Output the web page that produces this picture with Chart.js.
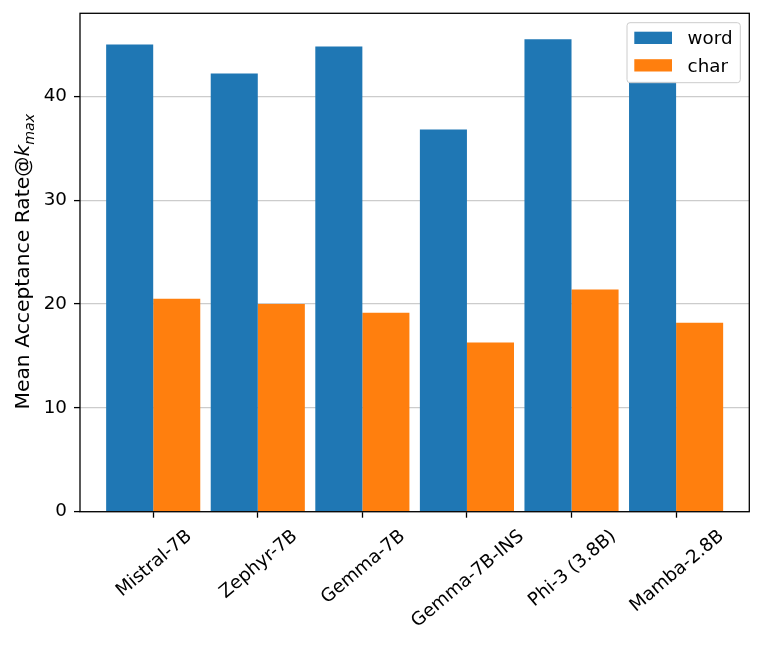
<!DOCTYPE html>
<html><head><meta charset="utf-8">
<script src="https://cdn.jsdelivr.net/npm/chart.js@4"></script>
<style>html,body{margin:0;padding:0;background:#fff}#wrap{width:763px;height:645px}</style>
</head><body><div id="wrap"><canvas id="c" width="763" height="645"></canvas></div>
<script>
const categories = ['Mistral-7B', 'Zephyr-7B', 'Gemma-7B', 'Gemma-7B-INS', 'Phi-3 (3.8B)', 'Mamba-2.8B'];
const wordValues = [45.0, 42.2, 44.8, 36.8, 45.5, 41.4];
const charValues = [20.5, 20.0, 19.15, 16.3, 21.4, 18.2];
const yTicks = [0, 10, 20, 30, 40];
const seriesNames = ['word', 'char'];
const seriesColors = ['#1f77b4', '#ff7f0e'];
const yTitleMain = 'Mean Acceptance Rate@';
const yTitleVar = 'k';
const yTitleSub = 'max';

const FONT = 'DejaVu Sans';
const FS = 18.3;
const TFS = 20.3;

const overlay = {
  id: 'overlay',
  afterDraw(chart) {
    const ctx = chart.ctx;
    const a = chart.chartArea;
    const xs = chart.scales.x;
    ctx.save();
    // frame
    ctx.strokeStyle = '#000';
    ctx.lineWidth = 1.3;
    ctx.strokeRect(a.left, a.top, a.right - a.left, a.bottom - a.top);
    // x labels rotated 40deg, centered
    ctx.fillStyle = '#000';
    ctx.font = FS + 'px "' + FONT + '"';
    ctx.textAlign = 'center';
    ctx.textBaseline = 'alphabetic';
    const ang = 40 * Math.PI / 180;
    const h = FS * 1.164;
    categories.forEach((lab, i) => {
      const px = xs.getPixelForValue(i);
      const w = ctx.measureText(lab).width;
      const H = w * Math.sin(ang) + h * Math.cos(ang);
      const cy = a.bottom + 13 + H / 2;
      ctx.save();
      ctx.translate(px, cy);
      ctx.rotate(-ang);
      ctx.fillText(lab, 0, 0.346 * FS);
      ctx.restore();
    });
    // y title
    ctx.save();
    const cyT = 261.7;
    ctx.translate(29.3, cyT);
    ctx.rotate(-Math.PI / 2);
    ctx.textAlign = 'left';
    const fMain = TFS + 'px "' + FONT + '"';
    const fVar = 'italic ' + TFS + 'px "' + FONT + '"';
    const fSub = 'italic ' + (TFS * 0.7) + 'px "' + FONT + '"';
    ctx.font = fMain; const w1 = ctx.measureText(yTitleMain).width;
    ctx.font = fVar; const w2 = ctx.measureText(yTitleVar).width;
    ctx.font = fSub; const w3 = ctx.measureText(yTitleSub).width;
    let x0 = -(w1 + w2 + w3) / 2;
    ctx.font = fMain; ctx.fillText(yTitleMain, x0, 0); x0 += w1;
    ctx.font = fVar; ctx.fillText(yTitleVar, x0, 0); x0 += w2;
    ctx.font = fSub; ctx.fillText(yTitleSub, x0, TFS * 0.22);
    ctx.restore();
    // legend
    const lx = a.right - 9 - 113.3, ly = a.top + 9.4, lw = 113.3, lh = 60;
    ctx.beginPath();
    ctx.roundRect(lx, ly, lw, lh, 3);
    ctx.fillStyle = 'rgba(255,255,255,0.8)';
    ctx.fill();
    ctx.strokeStyle = '#cccccc';
    ctx.lineWidth = 1;
    ctx.stroke();
    ctx.font = FS + 'px "' + FONT + '"';
    ctx.textAlign = 'left';
    seriesNames.forEach((n, i) => {
      const ry = ly + 9 + i * 27.5;
      ctx.fillStyle = seriesColors[i];
      ctx.fillRect(lx + 7.3, ry, 37.7, 12.3);
      ctx.fillStyle = '#000';
      ctx.fillText(n, lx + 60.6, ry + 12.6);
    });
    ctx.restore();
  }
};

new Chart(document.getElementById('c'), {
  type: 'bar',
  data: {
    datasets: [
      { label: seriesNames[0], data: wordValues.map((v, i) => ({ x: i, y: v })), backgroundColor: seriesColors[0], borderWidth: 0 },
      { label: seriesNames[1], data: charValues.map((v, i) => ({ x: i, y: v })), backgroundColor: seriesColors[1], borderWidth: 0 }
    ]
  },
  options: {
    responsive: false,
    animation: false,
    devicePixelRatio: 1,
    layout: { padding: { top: 13.3, right: 13.7, left: 0, bottom: 0 } },
    datasets: { bar: { categoryPercentage: 0.9, barPercentage: 1.0 } },
    plugins: { legend: { display: false }, tooltip: { enabled: false } },
    scales: {
      x: {
        type: 'linear', min: -0.7, max: 5.7, offset: false,
        afterBuildTicks: s => { s.ticks = categories.map((c, i) => ({ value: i })); },
        afterFit: s => { s.height = 133.3; s.paddingLeft = 0; s.paddingRight = 0; s.paddingTop = 0; s.paddingBottom = 0; },
        border: { display: false },
        grid: { drawOnChartArea: false, drawTicks: true, tickLength: 6, tickColor: '#000', tickWidth: 1.3, offset: false },
        ticks: { display: false }
      },
      y: {
        min: 0, max: 48.0,
        afterBuildTicks: s => { s.ticks = yTicks.map(v => ({ value: v })); },
        afterFit: s => { s.width = 80; s.paddingTop = 0; s.paddingBottom = 0; s.paddingLeft = 0; s.paddingRight = 0; },
        border: { display: false },
        grid: { color: '#cccccc', lineWidth: 1.2, drawTicks: true, tickLength: 6, tickColor: '#000', tickWidth: 1.3 },
        ticks: { color: '#000', padding: 7, font: { family: FONT, size: FS } }
      }
    }
  },
  plugins: [overlay]
});
</script></body></html>
